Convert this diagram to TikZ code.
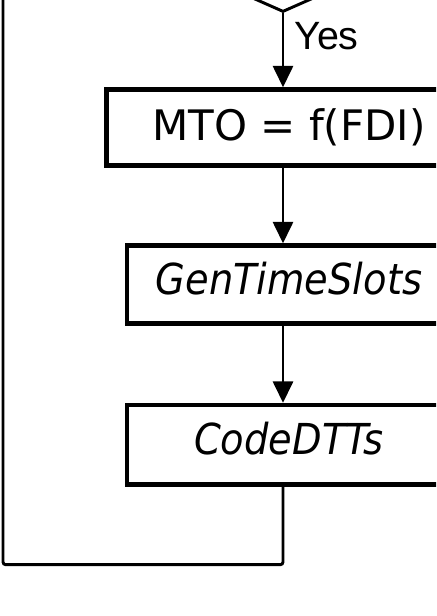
\documentclass[tikz,border=0pt]{standalone}
\usepackage{fontspec}
\setmainfont{DejaVu Sans}
\newfontfamily\yesfont{Liberation Sans}
\newfontfamily\condfont{DejaVu Sans Condensed}
\usetikzlibrary{shapes.geometric,arrows.meta}
\begin{document}
\begin{tikzpicture}[x=0.75pt,y=-0.75pt,
  procbox/.style={draw, line width=3.3pt, rectangle, inner sep=0pt, minimum width=243pt, minimum height=58.5pt},
  arr/.style={line width=2pt, -{Triangle[length=16pt,width=15pt]}},
  backline/.style={line width=2.2pt, rounded corners=2pt},
  boxfont/.style={font=\fontsize{31.5}{36}\selectfont},
  itfont/.style={font=\condfont\fontsize{32}{36}\selectfont\itshape, text depth=9pt}]
\useasboundingbox (0,0) rectangle (436,616);
\clip (0,0) rectangle (436,616);
\node[draw, line width=2.2pt, diamond, inner sep=0pt, minimum width=202.5pt, minimum height=90pt] (dec) at (283,-48) {};
\node[procbox, boxfont, minimum width=273.75pt, minimum height=57pt] (b1) at (289,127.5) {MTO = f(FDI)};
\node[procbox, itfont] (b2) at (289,284.5) {GenTimeSlots};
\node[procbox, itfont, minimum height=59.6pt] (b3) at (289,444.75) {CodeDTTs};
\node[font=\yesfont\fontsize{29.6}{34}\selectfont, anchor=base west, inner sep=0pt] (yes) at (294,50) {Yes};
\draw[arr] (dec.south) -- (dec.south |- b1.north);
\draw[arr] (b1.south -| dec.south) -- (b2.north -| dec.south);
\draw[arr] (b2.south -| dec.south) -- (b3.north -| dec.south);
\coordinate (loopend) at (3,-20);
\draw[backline] (b3.south -| dec.south) -- ++(0,78) -| (loopend);
\end{tikzpicture}
\end{document}
